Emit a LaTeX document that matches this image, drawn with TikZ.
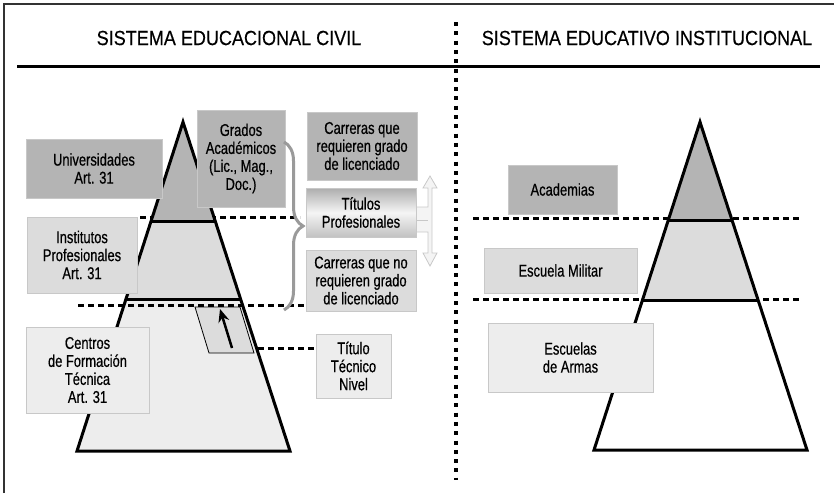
\documentclass[tikz,border=0pt]{standalone}
\usepackage{fontspec}
\setmainfont{Liberation Sans}[FakeStretch=0.76,FakeBold=0.6]
\newfontfamily\titlefont{Liberation Sans}[FakeStretch=0.88,FakeBold=0.4]
\usetikzlibrary{calc,decorations.pathreplacing,arrows.meta}
\definecolor{darkfill}{HTML}{B4B4B4}
\definecolor{midfill}{HTML}{DCDCDC}
\definecolor{lightfill}{HTML}{EDEDED}
\definecolor{boxline}{HTML}{C8C8C8}
\definecolor{bracegray}{HTML}{9A9A9A}
\tikzset{
  box/.style={draw=boxline, line width=0.8pt, align=center, inner sep=0pt,
    font=\fontsize{17}{18}\selectfont},
  darkbox/.style={box, fill=darkfill},
  midbox/.style={box, fill=midfill},
  lightbox/.style={box, fill=lightfill},
  title/.style={font=\titlefont\fontsize{20.5}{24}\selectfont},
  edge/.style={line width=3pt},
  dashline/.style={line width=3pt, dash pattern=on 6pt off 4pt},
}
\begin{document}
\begin{tikzpicture}[x=1pt,y=-1pt]
  \useasboundingbox (0,0) rectangle (834,493);
  \draw[line width=1.5pt, black!80] (4,493) -- (4,4) -- (834,4);

  \node[title] (tcivil) at (229,38) {SISTEMA EDUCACIONAL CIVIL};
  \node[title] (tinst) at (647,38) {SISTEMA EDUCATIVO INSTITUCIONAL};
  \coordinate (hl) at (17,66);
  \coordinate (hr) at (820,66);
  \draw[edge] (hl) -- (hr);
  \coordinate (dtop) at (456,22);
  \coordinate (dbot) at (456,480);
  \draw[line width=3.5pt, dash pattern=on 4pt off 5.3pt] (dtop) -- (dbot);

  % civil pyramid
  \coordinate (lA) at (183,122);
  \coordinate (lL) at (77,451);
  \coordinate (lR) at (290,451);
  \coordinate (l1L) at ($(lA)!0.3009!(lL)$);
  \coordinate (l1R) at ($(lA)!0.3009!(lR)$);
  \coordinate (l2L) at ($(lA)!0.541!(lL)$);
  \coordinate (l2R) at ($(lA)!0.541!(lR)$);
  \draw[dashline] (140,217) -- (300,217);
  \fill[lightfill] (l2L) -- (l2R) -- (lR) -- (lL) -- cycle;
  \fill[midfill] (l1L) -- (l1R) -- (l2R) -- (l2L) -- cycle;
  \fill[darkfill] (lA) -- (l1R) -- (l1L) -- cycle;
  \draw[edge] (lA) -- (lR) -- (lL) -- cycle;
  \draw[edge] (l1L) -- (l1R);
  \draw[edge] (l2L) -- (l2R);
  \draw[line width=0.8pt, fill=midfill] (195,307) -- (240,307) -- (254,353) -- (209,353) -- cycle;
  \coordinate (arrS) at (232,348);
  \coordinate (arrE) at (220,309);
  \draw[line width=2.5pt, -{Stealth[length=13pt,width=11pt]}] (arrS) -- (arrE);
  \draw[dashline] (78,305) -- (306,305);

  \node[darkbox, minimum width=136pt, minimum height=59pt] (univ) at (94,168.5) {Universidades\\Art. 31};
  \node[midbox, minimum width=110pt, minimum height=76pt] (inst) at (82,255) {Institutos\\Profesionales\\Art. 31};
  \node[lightbox, minimum width=123pt, minimum height=86pt] (cft) at (87.5,370) {Centros\\de Formación\\Técnica\\Art. 31};
  \node[darkbox, minimum width=88pt, minimum height=97pt] (grados) at (241,158.5) {Grados\\Académicos\\(Lic., Mag.,\\Doc.)};
  \node[darkbox, minimum width=110pt, minimum height=68pt] (carsi) at (362,146) {Carreras que\\requieren grado\\de licenciado};
  \node[box, minimum width=110pt, minimum height=49pt, top color=black!32, bottom color=black!24,
    middle color=black!4] (titprof) at (361,212.5) {Títulos\\Profesionales};
  \node[midbox, minimum width=110pt, minimum height=61pt] (carno) at (361,280.5) {Carreras que no\\requieren grado\\de licenciado};
  \node[lightbox, minimum width=75pt, minimum height=64pt] (tectit) at (353.5,366) {Título\\Técnico\\Nivel};
  \coordinate (tecdash) at (258,348);
  \draw[dashline] (tecdash) -- (tectit.west |- tecdash);

  \draw[bracegray, line width=3pt, decorate, decoration={brace, amplitude=19pt}] (284,142) -- (284,310);

  \draw[boxline, fill=lightfill!60!white, line width=0.8pt]
    (titprof.east |- 0,207) -- (428,207) -- (428,188) -- (423,188) -- (430,176) -- (437,188)
    -- (432,188) -- (432,253) -- (437,253) -- (430,266) -- (423,253) -- (428,253)
    -- (428,232) -- (titprof.east |- 0,232) -- cycle;
  \draw[boxline, line width=0.8pt] (titprof.east |- 0,220) -- (428,220);

  % institutional pyramid
  \coordinate (rA) at (700,122);
  \coordinate (rL) at (594,450);
  \coordinate (rR) at (807,450);
  \coordinate (r1L) at ($(rA)!0.2988!(rL)$);
  \coordinate (r1R) at ($(rA)!0.2988!(rR)$);
  \coordinate (r2L) at ($(rA)!0.5427!(rL)$);
  \coordinate (r2R) at ($(rA)!0.5427!(rR)$);
  \draw[dashline] (473,218) -- (800,218);
  \draw[dashline] (473,299) -- (800,299);
  \fill[white] (r2L) -- (r2R) -- (rR) -- (rL) -- cycle;
  \fill[midfill] (r1L) -- (r1R) -- (r2R) -- (r2L) -- cycle;
  \fill[darkfill] (rA) -- (r1R) -- (r1L) -- cycle;
  \draw[edge] (rA) -- (rR) -- (rL) -- cycle;
  \draw[edge] (r1L) -- (r1R);
  \draw[edge] (r2L) -- (r2R);

  \node[darkbox, minimum width=109pt, minimum height=49pt] (acad) at (562.5,189.5) {Academias};
  \node[midbox, minimum width=153pt, minimum height=45pt] (escmil) at (560.5,270.5) {Escuela Militar};
  \node[lightbox, minimum width=165pt, minimum height=69pt] (armas) at (570.5,357.5) {Escuelas\\de Armas};
\end{tikzpicture}
\end{document}
